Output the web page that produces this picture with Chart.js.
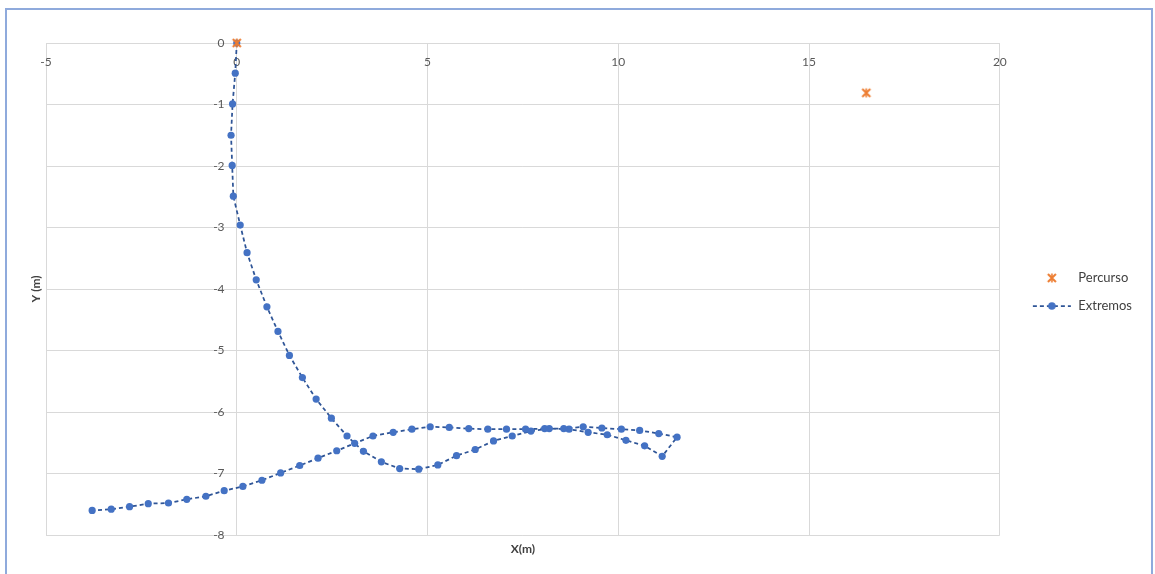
<!DOCTYPE html>
<html><head><meta charset="utf-8">
<script src="https://cdn.jsdelivr.net/npm/chart.js@4.4.1/dist/chart.umd.min.js"></script>
<style>
html,body{margin:0;padding:0;background:#fff;overflow:hidden}
#wrap{position:absolute;left:5px;top:8px;width:1144px;height:600px;border:2px solid #8faadc;background:#fff}
canvas{display:block}
</style></head><body>
<div id="wrap"><canvas id="c" width="1144" height="566"></canvas></div>
<script>
const seriesNames = ['Percurso', 'Extremos'];
const percursoX = [0, 16.5];
const percursoY = [0, -0.81];
const extremosX = [0, -0.04, -0.11, -0.15, -0.12, -0.09, 0.09, 0.27, 0.51, 0.79, 1.08, 1.38, 1.72, 2.08, 2.48, 2.89, 3.32, 3.79, 4.27, 4.77, 5.27, 5.76, 6.25, 6.73, 7.22, 7.71, 8.19, 8.71, 9.21, 9.71, 10.20, 10.69, 11.15, 11.54,
  11.06, 10.56, 10.08, 9.57, 9.08, 8.57, 8.07, 7.57, 7.07, 6.58, 6.08, 5.57, 5.07, 4.59, 4.10, 3.57, 3.09, 2.62, 2.13, 1.65, 1.15, 0.66, 0.16, -0.33, -0.81, -1.31, -1.79, -2.32, -2.81, -3.29, -3.79];
const extremosY = [0, -0.49, -0.99, -1.50, -1.99, -2.49, -2.96, -3.41, -3.85, -4.29, -4.69, -5.08, -5.44, -5.79, -6.10, -6.39, -6.64, -6.81, -6.92, -6.93, -6.86, -6.71, -6.61, -6.47, -6.39, -6.31, -6.27, -6.28, -6.33, -6.37, -6.46, -6.55, -6.72, -6.41,
  -6.35, -6.30, -6.28, -6.26, -6.24, -6.27, -6.27, -6.28, -6.28, -6.28, -6.27, -6.25, -6.24, -6.28, -6.33, -6.39, -6.51, -6.63, -6.75, -6.87, -6.99, -7.11, -7.21, -7.28, -7.37, -7.42, -7.48, -7.49, -7.54, -7.58, -7.60];
const xTickValues = [-5, 0, 5, 10, 15, 20];
const yTickValues = [0, -1, -2, -3, -4, -5, -6, -7, -8];
const xTitle = 'X(m)';
const yTitle = 'Y (m)';

const ORANGE = '#ed7d31', BLUE = '#4472c4', LINE = '#2f5597';
const Y_LABEL_GAP = 0.32; // label offset left of the x=0 line, in x units (layout only)

function drawStar(ctx, cx, cy, r) {
  ctx.strokeStyle = ORANGE; ctx.lineCap = 'butt';
  ctx.lineWidth = 2;
  ctx.beginPath();
  ctx.moveTo(cx - r, cy - r); ctx.lineTo(cx + r, cy + r);
  ctx.moveTo(cx + r, cy - r); ctx.lineTo(cx - r, cy + r);
  ctx.stroke();
  ctx.lineWidth = 1.6;
  ctx.beginPath();
  ctx.moveTo(cx, cy - r - 0.5); ctx.lineTo(cx, cy + r + 0.5);
  ctx.stroke();
}
const starImg = document.createElement('canvas');
starImg.width = 12; starImg.height = 12;
drawStar(starImg.getContext('2d'), 6, 6, 4);

const legPerc = document.createElement('canvas');
legPerc.width = 40; legPerc.height = 12;
drawStar(legPerc.getContext('2d'), 20, 6, 4);

const legExt = document.createElement('canvas');
legExt.width = 40; legExt.height = 12;
(function(){
  const g = legExt.getContext('2d');
  g.strokeStyle = LINE; g.lineWidth = 1.75; g.setLineDash([4, 3]);
  g.beginPath(); g.moveTo(1, 6); g.lineTo(39, 6); g.stroke();
  g.setLineDash([]);
  g.fillStyle = BLUE; g.beginPath(); g.arc(20, 6, 3.8, 0, Math.PI * 2); g.fill();
})();

const FONT = 'Lato, "Open Sans", sans-serif';
const GRID = '#d9d9d9';

new Chart(document.getElementById('c'), {
  type: 'scatter',
  data: {
    datasets: [
      {
        label: seriesNames[0],
        data: percursoX.map((x, i) => ({x, y: percursoY[i]})),
        pointStyle: starImg, pointRadius: 6, showLine: false, clip: false, order: 0
      },
      {
        label: seriesNames[1],
        data: extremosX.map((x, i) => ({x, y: extremosY[i]})),
        showLine: true, borderColor: LINE, borderWidth: 1.75, borderDash: [4, 3],
        pointRadius: 3.6, pointBackgroundColor: BLUE, pointBorderColor: BLUE, pointBorderWidth: 0,
        clip: false, order: 1, tension: 0
      }
    ]
  },
  options: {
    responsive: false, animation: false, events: [],
    layout: {padding: {top: 0, left: 0, right: 9, bottom: 2}},
    plugins: {
      tooltip: {enabled: false},
      legend: {
        position: 'right', align: 'center', fullSize: true,
        labels: {
          usePointStyle: true, pointStyleWidth: 40, padding: 15,
          font: {family: FONT, size: 13}, color: '#404040',
          generateLabels: () => [
            {text: seriesNames[0], pointStyle: legPerc, fillStyle: 'rgba(0,0,0,0)', strokeStyle: 'rgba(0,0,0,0)', lineWidth: 0, hidden: false, datasetIndex: 0, fontColor: '#404040'},
            {text: seriesNames[1], pointStyle: legExt, fillStyle: 'rgba(0,0,0,0)', strokeStyle: 'rgba(0,0,0,0)', lineWidth: 0, hidden: false, datasetIndex: 1, fontColor: '#404040'}
          ]
        }
      }
    },
    scales: {
      x: {
        type: 'linear', position: {y: 0}, min: -5, max: 20,
        afterBuildTicks: s => { s.ticks = xTickValues.map(v => ({value: v})); },
        grid: {color: GRID, lineWidth: 1, drawTicks: false},
        border: {display: true, color: GRID, width: 1},
        ticks: {padding: 12, color: '#595959', font: {family: FONT, size: 12}, maxRotation: 0, autoSkip: false, callback: v => String(v)}
      },
      y: {
        type: 'linear', position: {x: -Y_LABEL_GAP}, min: -8, max: 0,
        afterBuildTicks: s => { s.ticks = yTickValues.map(v => ({value: v})); },
        grid: {color: GRID, lineWidth: 1, drawTicks: false},
        border: {display: false},
        ticks: {padding: 0, color: '#595959', font: {family: FONT, size: 12}, autoSkip: false, callback: v => String(v)}
      },
      xtop: {
        type: 'linear', position: 'top', display: true,
        grid: {display: false}, border: {display: false}, ticks: {display: false},
        afterFit: s => { s.height = 33; }
      },
      xt: {
        type: 'linear', position: 'bottom', display: true,
        grid: {display: false}, border: {display: false}, ticks: {display: false},
        title: {display: true, text: xTitle, color: '#404040', font: {family: FONT, size: 12, weight: 'bold'}, padding: {top: 0, bottom: 18}},
        afterFit: s => { s.height = 39; }
      },
      yt: {
        type: 'linear', position: 'left', display: true,
        grid: {display: false}, border: {display: false}, ticks: {display: false},
        title: {display: true, text: yTitle, color: '#404040', font: {family: FONT, size: 12, weight: 'bold'}, padding: {top: 22, bottom: 0}},
        afterFit: s => { s.width = 39; }
      },
      yr: {
        type: 'linear', position: 'right', display: true,
        grid: {display: false}, border: {display: false}, ticks: {display: false},
        afterFit: s => { s.width = 17; }
      }
    }
  }
});
</script>
</body></html>
